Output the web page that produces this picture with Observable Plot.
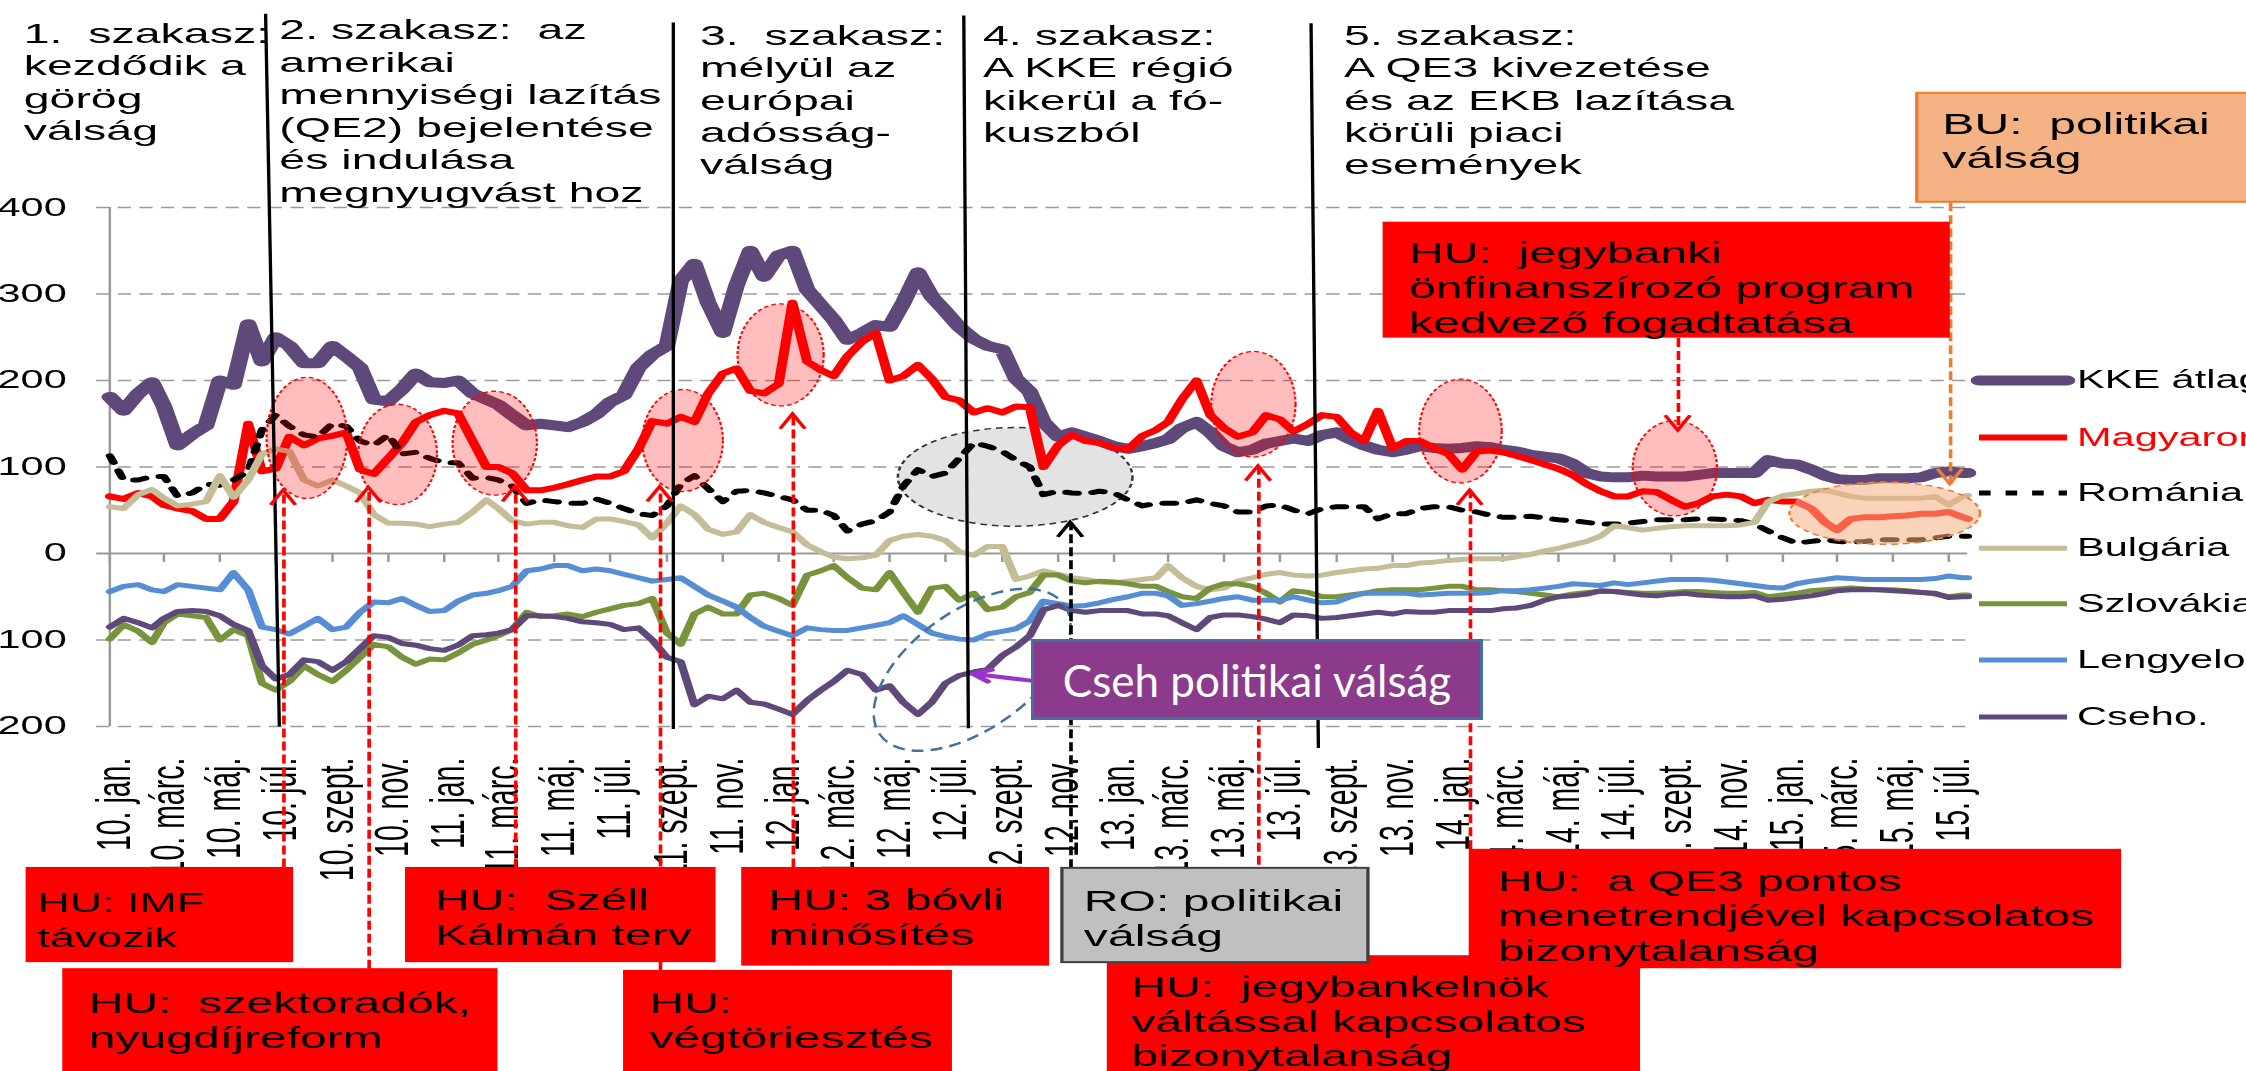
<!DOCTYPE html>
<html><head><meta charset="utf-8">
<script src="https://cdn.jsdelivr.net/npm/d3@7"></script>
<script src="https://cdn.jsdelivr.net/npm/@observablehq/plot@0.6"></script>
<style>
html,body{margin:0;padding:0;background:#fff;}
body{width:2246px;height:1071px;overflow:hidden;position:relative;}
#wrap{position:absolute;left:0;top:0;transform-origin:0 0;}
#cseh{position:absolute;left:1031px;top:639px;width:446px;height:75px;background:#8C3A8C;border:3px solid #41719C;color:#fff;font-family:Lato,'Open Sans',sans-serif;font-size:44px;display:flex;align-items:center;justify-content:center;white-space:nowrap;}
</style></head><body>
<div id="wrap"></div>
<div id="cseh">Cseh politikai válság</div>
<script>
// ---------------- data ----------------
const dates = `
2010-01-01 2010-01-16 2010-02-01 2010-02-16 2010-03-01 2010-03-16 2010-04-01 2010-04-16 2010-05-01 2010-05-16 2010-06-01 2010-06-16
2010-07-01 2010-07-16 2010-08-01 2010-08-16 2010-09-01 2010-09-16 2010-10-01 2010-10-16 2010-11-01 2010-11-16 2010-12-01 2010-12-16
2011-01-01 2011-01-16 2011-02-01 2011-02-16 2011-03-01 2011-03-16 2011-04-01 2011-04-16 2011-05-01 2011-05-16 2011-06-01 2011-06-16
2011-07-01 2011-07-16 2011-08-01 2011-08-16 2011-09-01 2011-09-16 2011-10-01 2011-10-16 2011-11-01 2011-11-16 2011-12-01 2011-12-16
2012-01-01 2012-01-16 2012-02-01 2012-02-16 2012-03-01 2012-03-16 2012-04-01 2012-04-16 2012-05-01 2012-05-16 2012-06-01 2012-06-16
2012-07-01 2012-07-16 2012-08-01 2012-08-16 2012-09-01 2012-09-16 2012-10-01 2012-10-16 2012-11-01 2012-11-16 2012-12-01 2012-12-16
2013-01-01 2013-01-16 2013-02-01 2013-02-16 2013-03-01 2013-03-16 2013-04-01 2013-04-16 2013-05-01 2013-05-16 2013-06-01 2013-06-16
2013-07-01 2013-07-16 2013-08-01 2013-08-16 2013-09-01 2013-09-16 2013-10-01 2013-10-16 2013-11-01 2013-11-16 2013-12-01 2013-12-16
2014-01-01 2014-01-16 2014-02-01 2014-02-16 2014-03-01 2014-03-16 2014-04-01 2014-04-16 2014-05-01 2014-05-16 2014-06-01 2014-06-16
2014-07-01 2014-07-16 2014-08-01 2014-08-16 2014-09-01 2014-09-16 2014-10-01 2014-10-16 2014-11-01 2014-11-16 2014-12-01 2014-12-16
2015-01-01 2015-01-16 2015-02-01 2015-02-16 2015-03-01 2015-03-16 2015-04-01 2015-04-16 2015-05-01 2015-05-16 2015-06-01 2015-06-16
2015-07-01 2015-07-16 2015-07-22`.trim().split(/\s+/).map(s => new Date(s));

const seriesNames = ["KKE átlag", "Magyarország", "Románia", "Bulgária", "Szlovákia", "Lengyelország", "Cseho."];

const kke = [181,165,185,198,170,125,138,148,200,195,
 265,222,250,240,220,220,240,228,215,178,
 176,190,208,198,197,200,185,178,172,160,
 148,150,148,146,152,161,175,183,215,230,
 240,315,335,290,255,310,350,320,345,350,
 305,287,270,247,255,264,262,290,325,297,
 280,262,248,240,236,202,187,152,135,140,
 135,130,124,121,124,128,132,145,152,140,
 124,117,120,127,130,133,130,137,140,132,
 125,120,117,120,124,122,121,122,124,123,
 120,118,114,112,110,104,93,89,88,88,
 90,89,89,89,91,93,93,93,93,108,
 104,103,97,90,86,85,85,87,87,87,
 88,93,95,93,93];

const hu = [66,63,70,66,56,52,49,40,40,60,
 150,95,98,135,125,133,136,140,97,92,
 110,128,152,160,165,162,130,100,100,93,
 73,73,76,80,85,89,89,95,121,153,
 150,158,152,185,208,214,188,185,196,290,
 222,212,205,228,245,255,200,205,218,202,
 181,177,163,168,163,170,169,100,125,137,
 130,128,122,120,136,143,152,178,200,160,
 145,135,140,160,155,141,150,160,158,140,
 130,165,122,130,130,122,115,97,118,119,
 117,113,108,103,98,91,80,72,66,66,
 72,71,62,54,58,66,68,66,58,62,
 60,60,52,36,27,40,42,42,43,44,
 46,46,48,42,40];

const ro = [113,85,85,89,89,66,70,80,79,85,
 95,143,160,147,137,135,150,147,130,125,
 137,115,117,110,105,105,87,88,85,78,
 58,62,60,58,58,63,58,52,46,44,
 55,80,90,75,60,72,73,70,66,62,
 50,50,44,26,34,38,48,78,97,89,
 93,110,128,124,118,108,100,68,72,70,
 69,72,70,62,55,58,58,58,62,58,
 55,48,48,55,56,50,46,52,54,54,
 54,40,46,46,52,54,54,50,48,44,
 42,42,43,41,39,38,36,34,34,35,
 37,39,39,39,40,40,39,38,34,26,
 18,12,14,16,14,13,14,16,16,16,
 16,18,20,20,20];

const bg = [54,52,68,74,64,55,57,60,90,65,
 85,115,121,118,85,78,85,78,70,45,
 35,35,34,31,34,36,48,62,52,38,
 34,36,36,32,30,40,40,37,33,18,
 35,55,45,28,22,25,45,36,30,25,
 10,2,-4,-6,-5,-2,15,20,22,20,
 15,2,-2,8,8,-30,-26,-20,-24,-28,
 -30,-33,-34,-32,-30,-28,-14,-28,-38,-42,
 -40,-32,-28,-24,-22,-25,-26,-25,-22,-20,
 -18,-17,-14,-14,-11,-10,-8,-7,-6,-6,
 -6,-4,-1,3,6,10,14,20,32,30,
 27,29,31,32,32,32,32,33,36,60,
 67,69,72,73,70,66,64,64,64,64,
 64,66,56,66,67];

const sk = [-99,-82,-90,-103,-80,-70,-72,-74,-100,-88,
 -95,-150,-158,-148,-130,-140,-148,-135,-120,-105,
 -108,-120,-128,-122,-123,-115,-105,-100,-95,-88,
 -68,-73,-72,-70,-73,-68,-64,-60,-58,-52,
 -92,-105,-70,-62,-70,-70,-48,-46,-52,-60,
 -25,-20,-14,-28,-40,-42,-22,-45,-68,-40,
 -38,-54,-46,-65,-62,-50,-45,-25,-25,-32,
 -34,-32,-33,-35,-38,-38,-44,-50,-52,-40,
 -35,-35,-38,-46,-56,-43,-45,-50,-50,-48,
 -46,-43,-42,-42,-42,-40,-38,-38,-42,-42,
 -43,-44,-46,-48,-50,-47,-45,-44,-44,-45,
 -46,-46,-45,-44,-44,-45,-46,-46,-45,-50,
 -48,-46,-43,-42,-41,-40,-41,-42,-42,-43,
 -45,-47,-50,-48,-48];

const pl = [-44,-38,-36,-42,-44,-36,-38,-40,-42,-22,
 -42,-85,-88,-93,-84,-75,-88,-85,-68,-56,
 -57,-52,-60,-67,-66,-55,-48,-46,-43,-38,
 -20,-18,-14,-14,-20,-18,-20,-24,-28,-32,
 -30,-28,-38,-48,-55,-62,-74,-84,-90,-95,
 -86,-88,-89,-89,-86,-83,-80,-72,-82,-92,
 -96,-99,-100,-93,-90,-87,-78,-55,-58,-61,
 -60,-57,-53,-50,-46,-46,-49,-60,-58,-55,
 -52,-50,-54,-54,-54,-50,-54,-57,-56,-50,
 -46,-46,-46,-46,-48,-47,-46,-46,-46,-45,
 -43,-43,-42,-40,-38,-35,-36,-37,-34,-36,
 -34,-32,-30,-30,-30,-31,-33,-35,-37,-39,
 -40,-35,-32,-30,-28,-29,-30,-30,-30,-30,
 -30,-29,-26,-28,-28];

const cz = [-85,-75,-80,-86,-75,-67,-66,-67,-72,-82,
 -89,-130,-145,-140,-123,-125,-135,-125,-110,-95,
 -97,-104,-106,-110,-112,-106,-95,-94,-92,-88,
 -72,-72,-73,-75,-79,-80,-82,-88,-86,-100,
 -120,-125,-175,-165,-168,-158,-172,-174,-180,-186,
 -170,-158,-148,-135,-140,-158,-153,-172,-186,-172,
 -150,-141,-137,-134,-118,-108,-95,-65,-60,-66,
 -68,-66,-66,-66,-70,-70,-72,-80,-88,-74,
 -71,-71,-73,-76,-80,-71,-72,-75,-74,-72,
 -70,-68,-70,-67,-68,-68,-66,-66,-66,-66,
 -64,-63,-60,-54,-50,-49,-47,-43,-44,-46,
 -48,-49,-47,-46,-48,-49,-50,-50,-49,-54,
 -53,-51,-49,-46,-43,-42,-42,-42,-43,-44,
 -45,-46,-51,-50,-50];

const tickLabels = ["10. jan.","10. márc.","10. máj.","10. júl.","10. szept.","10. nov.",
 "11. jan.","11. márc.","11. máj.","11. júl.","11. szept.","11. nov.",
 "12. jan.","12. márc.","12. máj.","12. júl.","12. szept.","12. nov.",
 "13. jan.","13. márc.","13. máj.","13. júl.","13. szept.","13. nov.",
 "14. jan.","14. márc.","14. máj.","14. júl.","14. szept.","14. nov.",
 "15. jan.","15. márc.","15. máj.","15. júl."];
const yTicks = [400, 300, 200, 100, 0, -100, -200];

// ---------------- annotations (data coordinates) ----------------
const stages = [
 {x: "2009-09-29", y: 617, text: "1.  szakasz:\nkezdődik a\ngörög\nválság"},
 {x: "2010-07-05", y: 621, text: "2. szakasz:  az\namerikai\nmennyiségi lazítás\n(QE2) bejelentése\nés indulása\nmegnyugvást hoz"},
 {x: "2011-10-07", y: 615, text: "3.  szakasz:\nmélyül az\neurópai\nadósság-\nválság"},
 {x: "2012-08-11", y: 615, text: "4. szakasz:\nA KKE régió\nkikerül a fó-\nkuszból"},
 {x: "2013-09-09", y: 615, text: "5. szakasz:\nA QE3 kivezetése\nés az EKB lazítása\nkörüli piaci\nesemények"}
];
const dividers = [
 {x1: "2010-06-20", y1: 624, x2: "2010-07-05", y2: -200},
 {x1: "2011-09-08", y1: 614, x2: "2011-09-08", y2: -203},
 {x1: "2012-07-21", y1: 622, x2: "2012-07-26", y2: -202},
 {x1: "2013-08-04", y1: 613, x2: "2013-08-12", y2: -225}
];
const boxes = [
 {x1:"2009-10-02", x2:"2010-07-21", y1:-363, y2:-473, tx:"2009-10-14", ty:-386, size:27, kind:"hu", text:"HU: IMF\ntávozik"},
 {x1:"2009-11-11", x2:"2011-03-01", y1:-480, y2:-640, tx:"2009-12-09", ty:-503, size:29, kind:"hu", text:"HU:  szektoradók,\nnyugdíjreform"},
 {x1:"2010-11-20", x2:"2011-10-25", y1:-363, y2:-473, tx:"2010-12-22", ty:-384, size:29, kind:"hu", text:"HU:  Széll\nKálmán terv"},
 {x1:"2011-07-16", x2:"2012-07-09", y1:-482, y2:-640, tx:"2011-08-13", ty:-503, size:29, kind:"hu", text:"HU:\nvégtöriesztés"},
 {x1:"2011-11-22", x2:"2012-10-23", y1:-363, y2:-477, tx:"2011-12-21", ty:-384, size:29, kind:"hu", text:"HU: 3 bóvli\nminősítés"},
 {x1:"2012-12-25", x2:"2014-07-30", y1:-465, y2:-640, tx:"2013-01-20", ty:-484, size:29, kind:"hu", text:"HU:  jegybankelnök\nváltással kapcsolatos\nbizonytalanság"},
 {x1:"2014-01-24", x2:"2016-01-06", y1:-342, y2:-480, tx:"2014-02-24", ty:-362, size:29, kind:"hu", text:"HU:  a QE3 pontos\nmenetrendjével kapcsolatos\nbizonytalanság"},
 {x1:"2012-11-06", x2:"2013-10-06", y1:-364, y2:-473, tx:"2012-11-29", ty:-385, size:29, kind:"ro", text:"RO: politikai\nválság"},
 {x1:"2013-10-22", x2:"2015-07-03", y1:383, y2:249, tx:"2013-11-19", ty:364, size:29, kind:"hu", text:"HU:  jegybanki\nönfinanszírozó program\nkedvező fogadtatása"},
 {x1:"2015-05-28", x2:"2016-07-19", y1:532, y2:406, tx:"2015-06-24", ty:514, size:29, kind:"bu", text:"BU:  politikai\nválság"}
];
const events = [
 {x:"2010-07-10", y1:-363, y2:73, kind:"hu"},
 {x:"2010-10-11", y1:-480, y2:76, kind:"hu"},
 {x:"2011-03-20", y1:-363, y2:77, kind:"hu"},
 {x:"2011-08-25", y1:-482, y2:77, kind:"hu"},
 {x:"2012-01-17", y1:-363, y2:161, kind:"hu"},
 {x:"2013-06-08", y1:-465, y2:101, kind:"hu"},
 {x:"2014-01-25", y1:-342, y2:73, kind:"hu"},
 {x:"2014-09-09", y1:249, y2:142, kind:"hu"},
 {x:"2012-11-15", y1:-364, y2:36, kind:"ro"},
 {x:"2015-07-03", y1:406, y2:80, kind:"bu"}
];
const pinkEllipses = [
 {x:"2010-08-05", rx:44, y:133, ry:70},
 {x:"2010-11-12", rx:43, y:114, ry:58},
 {x:"2011-02-26", rx:46, y:127, ry:60},
 {x:"2011-09-19", rx:44, y:130, ry:59},
 {x:"2012-01-04", rx:47, y:229, ry:59},
 {x:"2013-06-03", rx:46, y:172, ry:61},
 {x:"2014-01-15", rx:45, y:141, ry:60},
 {x:"2014-09-06", rx:46, y:98, ry:55}
];
const grayEllipse = [{x:"2012-09-16", rx:128, y:88, ry:57}];
const orangeEllipse = [{x:"2015-04-23", rx:104, y:46, ry:36}];
const czEllipse = {x:"2012-07-31", y:-135, a:123, b:65, angle:-35};
const czArrow = [{x1:"2012-10-02", y1:-147, x2:"2012-07-31", y2:-139}];
const legendY = [200, 134, 70, 6, -58, -123, -189];

// ---------------- rendering ----------------
const S = 1.66;                 // horizontal stretch of the original picture
const W = 2246 / S;
const D = s => new Date(s);
const xDomain = [D("2010-01-01"), D("2015-07-22")];
const values = [kke, hu, ro, bg, sk, pl, cz];
const styles = [
 {color:"#5F497A", width:10},
 {color:"#FF0000", width:6},
 {color:"#000000", width:5, dash:"7,9"},
 {color:"#C4BD97", width:5},
 {color:"#77933C", width:5},
 {color:"#558ED5", width:5},
 {color:"#5F497A", width:5}
];
const kindColor = {hu:"#FF0000", ro:"#000000", bu:"#ED7D31"};
const tickDates = dates.filter((d, i) => i % 4 === 0);
const addDays = (s, n) => new Date(+D(s) + n * 864e5);

const ellipseMark = (list, st) => (index, scales) => {
  const g = d3.create("svg:g");
  for (const e of list) {
    const cx = scales.x(D(e.x)), cy = scales.y(e.y);
    const rx = scales.x(addDays(e.x, e.rx)) - cx;
    const ry = Math.abs(scales.y(e.y + e.ry) - cy);
    g.append("ellipse").attr("cx", cx).attr("cy", cy).attr("rx", rx).attr("ry", ry)
      .attr("fill", st.fill).attr("fill-opacity", st.fillOpacity)
      .attr("stroke", st.stroke).attr("stroke-width", st.strokeWidth)
      .attr("stroke-dasharray", st.dash);
  }
  return g.node();
};
const tiltedEllipse = (e) => (index, scales) => {
  const cx = scales.x(D(e.x)), cy = scales.y(e.y);
  const a = (scales.x(addDays(e.x, e.a)) - cx) * S;
  const b = (scales.x(addDays(e.x, e.b)) - cx) * S;
  const g = d3.create("svg:g").attr("transform", `scale(${1 / S},1)`);
  g.append("ellipse").attr("cx", cx * S).attr("cy", cy).attr("rx", a).attr("ry", b)
    .attr("transform", `rotate(${e.angle},${cx * S},${cy})`)
    .attr("fill", "none").attr("stroke", "#41719C").attr("stroke-width", 2.5)
    .attr("stroke-dasharray", "12,7");
  return g.node();
};
const headsMark = (list) => (index, scales) => {
  const g = d3.create("svg:g");
  for (const e of list) {
    const tx = scales.x(D(e.x)), ty = scales.y(e.y2);
    const s = e.y2 > e.y1 ? 1 : -1;
    const wy = ty + s * 15;
    g.append("path").attr("d", `M${tx - 7.5},${wy}L${tx},${ty}L${tx + 7.5},${wy}`)
      .attr("fill", "none").attr("stroke", kindColor[e.kind]).attr("stroke-width", 2.4);
  }
  return g.node();
};

const gridStart = () => D("2009-12-18");
const marks = [
  Plot.ruleY(yTicks.filter(v => v !== 0), {x1: gridStart, x2: () => xDomain[1], stroke: "#9a9a9a", strokeWidth: 1.6, strokeDasharray: "8,5"}),
  Plot.ruleY([0], {x1: gridStart, x2: () => xDomain[1], stroke: "#9a9a9a", strokeWidth: 2}),
  Plot.ruleX([xDomain[0]], {y1: -200, y2: 400, stroke: "#9a9a9a", strokeWidth: 1.5}),
  Plot.ruleX(tickDates, {y1: 0, y2: -10.4, stroke: "#9a9a9a", strokeWidth: 1.5}),
  ellipseMark(grayEllipse, {fill: "#E3E3E3", fillOpacity: 1, stroke: "#333", strokeWidth: 1.5, dash: "4,3"}),
  ...values.map((vals, s) => Plot.line(dates, {
    x: d => d, y: (d, i) => vals[i],
    stroke: styles[s].color, strokeWidth: styles[s].width,
    strokeDasharray: styles[s].dash, strokeLinejoin: "round", strokeLinecap: "round"
  })),
  ellipseMark(pinkEllipses, {fill: "#FF0000", fillOpacity: 0.26, stroke: "#FF0000", strokeWidth: 1.3, dash: "3,2"}),
  ellipseMark(orangeEllipse, {fill: "#F4B183", fillOpacity: 0.55, stroke: "#ED7D31", strokeWidth: 1.5, dash: "4,3"}),
  tiltedEllipse(czEllipse),
  Plot.link(dividers, {x1: d => D(d.x1), y1: "y1", x2: d => D(d.x2), y2: "y2", stroke: "#000", strokeWidth: 2}),
  Plot.text(yTicks, {x: () => D("2009-11-15"), y: d => d, text: d => String(d), textAnchor: "end", lineAnchor: "middle", fontSize: 25, fill: "#000"}),
  Plot.text(tickDates, {x: d => d, y: () => -236, text: (d, i) => tickLabels[i], rotate: -90, textAnchor: "end", lineAnchor: "middle", fontSize: 28.5, fill: "#000", dx: 3}),
  ...["hu", "ro", "bu"].map(k => Plot.link(events.filter(e => e.kind === k), {
    x1: d => D(d.x), x2: d => D(d.x), y1: "y1", y2: "y2",
    stroke: kindColor[k], strokeWidth: 2.2, strokeDasharray: "9,4"
  })),
  headsMark(events),
  Plot.arrow(czArrow, {x1: d => D(d.x1), y1: "y1", x2: d => D(d.x2), y2: "y2", stroke: "#9933CC", strokeWidth: 4, headLength: 9}),
  ...["hu", "ro", "bu"].map(k => Plot.rect(boxes.filter(b => b.kind === k), {
    x1: d => D(d.x1), x2: d => D(d.x2), y1: "y1", y2: "y2",
    fill: k === "hu" ? "#FF0000" : k === "ro" ? "#C0C0C0" : "#F4B183",
    stroke: k === "hu" ? "none" : k === "ro" ? "#404040" : "#ED7D31", strokeWidth: 2
  })),
  ...[27, 29].map(sz => Plot.text(boxes.filter(b => b.size === sz), {x: d => D(d.tx), y: "ty", text: "text", textAnchor: "start", lineAnchor: "top", fontSize: sz, lineHeight: 1.25 * 29 / sz * 0.96, fill: "#000"})),
  Plot.text(stages, {x: d => D(d.x), y: "y", text: "text", textAnchor: "start", lineAnchor: "top", fontSize: 28, lineHeight: 1.16, fill: "#000"}),
  ...seriesNames.map((n, s) => Plot.link([n], {
    x1: () => D("2015-08-03"), x2: () => D("2015-11-07"), y1: () => legendY[s], y2: () => legendY[s],
    stroke: styles[s].color, strokeWidth: styles[s].width, strokeDasharray: styles[s].dash, strokeLinecap: s === 0 ? "round" : "butt"
  })),
  ...seriesNames.map((n, s) => Plot.text([n], {
    x: () => D("2015-11-18"), y: () => legendY[s], text: d => d, textAnchor: "start", lineAnchor: "middle",
    fontSize: 25, fill: s === 1 ? "#FF0000" : "#000"
  }))
];

const chart = Plot.plot({
  width: W, height: 1071,
  marginLeft: 109 / S, marginRight: (2246 - 1967.2) / S, marginTop: 207, marginBottom: 1071 - 726,
  x: {type: "utc", domain: xDomain, axis: null},
  y: {domain: [-200, 400], axis: null},
  style: {fontFamily: "'Liberation Sans', Arial, sans-serif", background: "transparent", maxWidth: "none", overflow: "visible"},
  marks
});
const wrap = document.getElementById("wrap");
wrap.style.transform = `scaleX(${S})`;
wrap.style.width = W + "px";
wrap.appendChild(chart);
</script></body></html>
